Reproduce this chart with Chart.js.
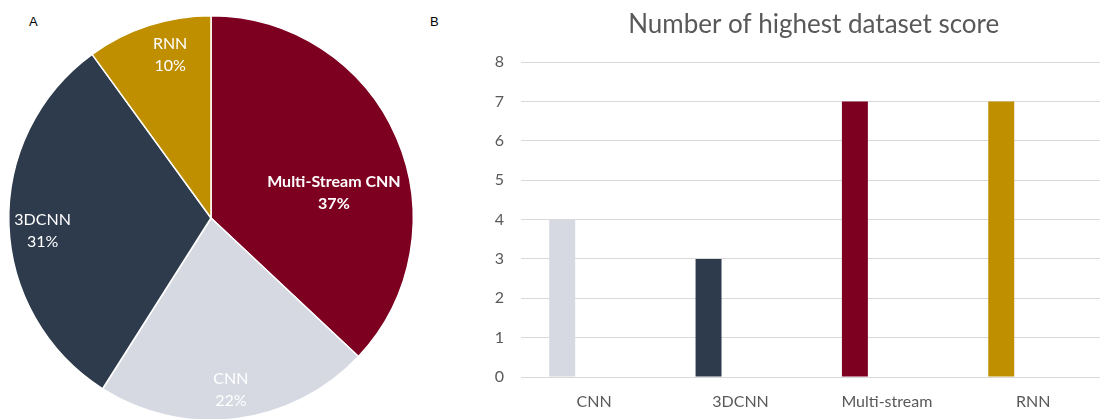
<!DOCTYPE html>
<html>
<head>
<meta charset="utf-8">
<script src="https://cdn.jsdelivr.net/npm/chart.js@4.4.1/dist/chart.umd.min.js"></script>
<style>
  html, body { margin:0; padding:0; width:1100px; height:419px; overflow:hidden; background:#fff; }
  body { position:relative; }
  #pieWrap { position:absolute; left:0; top:0; width:422px; height:436px; }
  #barWrap { position:absolute; left:440px; top:0; width:680px; height:419px; }
  .tag { position:absolute; font:13px/13px "Liberation Sans", Arial, sans-serif; color:#000; }
</style>
</head>
<body>
<div class="tag" style="left:29px; top:15px;">A</div>
<div class="tag" style="left:430px; top:15px;">B</div>
<div id="pieWrap"><canvas id="pie"></canvas></div>
<div id="barWrap"><canvas id="bar"></canvas></div>
<script>
// ---- Panel A data (pie) ----
const pieLabels = ['Multi-Stream CNN', 'CNN', '3DCNN', 'RNN'];
const pieShares = [37, 22, 31, 10];
const pieColors = ['#7E0021', '#D6D9E1', '#2E3B4D', '#BF8F00'];
// label placement styles (fraction of radius, angular shift in degrees)
const pieLabelRadius = [0.62, 0.857, 0.835, 0.83];
const pieLabelShiftDeg = [12, 0.6, -2.5, 3.9];
const pieLabelBold = [true, false, false, false];

// ---- Panel B data (bars) ----
const barTitle = 'Number of highest dataset score';
const barCategories = ['CNN', '3DCNN', 'Multi-stream', 'RNN'];
const barValues = [4, 3, 7, 7];
const barColors = ['#D6D9E1', '#2E3B4D', '#7E0021', '#BF8F00'];
const emptySeries = [null, null, null, null];
const yMin = 0, yMax = 8, yStep = 1;

const FONT = 'Lato';
const TEXT_GREY = '#595959';

const pieLabelPlugin = {
  id: 'pieLabels',
  afterDatasetsDraw(chart) {
    const ctx = chart.ctx;
    const meta = chart.getDatasetMeta(0);
    const ds = chart.data.datasets[0];
    ctx.save();
    ctx.fillStyle = '#ffffff';
    ctx.textAlign = 'center';
    ctx.textBaseline = 'middle';
    meta.data.forEach((arc, i) => {
      const p = arc.getProps(['x', 'y', 'startAngle', 'endAngle', 'outerRadius'], true);
      const mid = (p.startAngle + p.endAngle) / 2 + pieLabelShiftDeg[i] * Math.PI / 180;
      const r = p.outerRadius * pieLabelRadius[i];
      const x = p.x + Math.cos(mid) * r;
      const y = p.y + Math.sin(mid) * r;
      ctx.font = (pieLabelBold[i] ? 'bold ' : '') + '16px ' + FONT;
      ctx.fillText(chart.data.labels[i], x, y - 11);
      ctx.fillText(ds.data[i] + '%', x, y + 11);
    });
    ctx.restore();
  }
};

new Chart(document.getElementById('pie'), {
  type: 'pie',
  data: {
    labels: pieLabels,
    datasets: [{
      data: pieShares,
      backgroundColor: pieColors,
      borderColor: '#ffffff',
      borderWidth: 1.5,
      hoverOffset: 0
    }]
  },
  options: {
    responsive: true,
    maintainAspectRatio: false,
    animation: false,
    layout: { padding: { left: 8, right: 8, top: 15, bottom: 15 } },
    plugins: { legend: { display: false }, tooltip: { enabled: false } }
  },
  plugins: [pieLabelPlugin]
});

new Chart(document.getElementById('bar'), {
  type: 'bar',
  data: {
    labels: barCategories,
    datasets: [
      { data: barValues, backgroundColor: barColors, borderWidth: 0 },
      { data: emptySeries, backgroundColor: 'rgba(0,0,0,0)', borderWidth: 0 }
    ]
  },
  options: {
    responsive: true,
    maintainAspectRatio: false,
    animation: false,
    categoryPercentage: 0.874,
    barPercentage: 0.406,
    layout: { padding: { left: 0, right: 13.6, top: 0, bottom: 9 } },
    plugins: {
      legend: { display: false },
      tooltip: { enabled: false },
      title: {
        display: true,
        text: barTitle,
        fullSize: false,
        color: TEXT_GREY,
        font: { family: FONT, size: 26, weight: 'normal' },
        padding: { top: 9, bottom: 21.8 }
      }
    },
    scales: {
      x: {
        grid: { display: false, drawTicks: false },
        border: { display: false },
        ticks: { color: TEXT_GREY, font: { family: FONT, size: 16 }, padding: 15, maxRotation: 0, autoSkip: false },
        afterFit(scale) { scale.height = 33; }
      },
      y: {
        min: yMin, max: yMax,
        grid: { color: '#D9D9D9', lineWidth: 1, drawTicks: false },
        border: { display: false },
        ticks: { stepSize: yStep, color: TEXT_GREY, font: { family: FONT, size: 16 }, padding: 17 },
        afterFit(scale) { scale.width = 81; }
      }
    }
  }
});
</script>
</body>
</html>
